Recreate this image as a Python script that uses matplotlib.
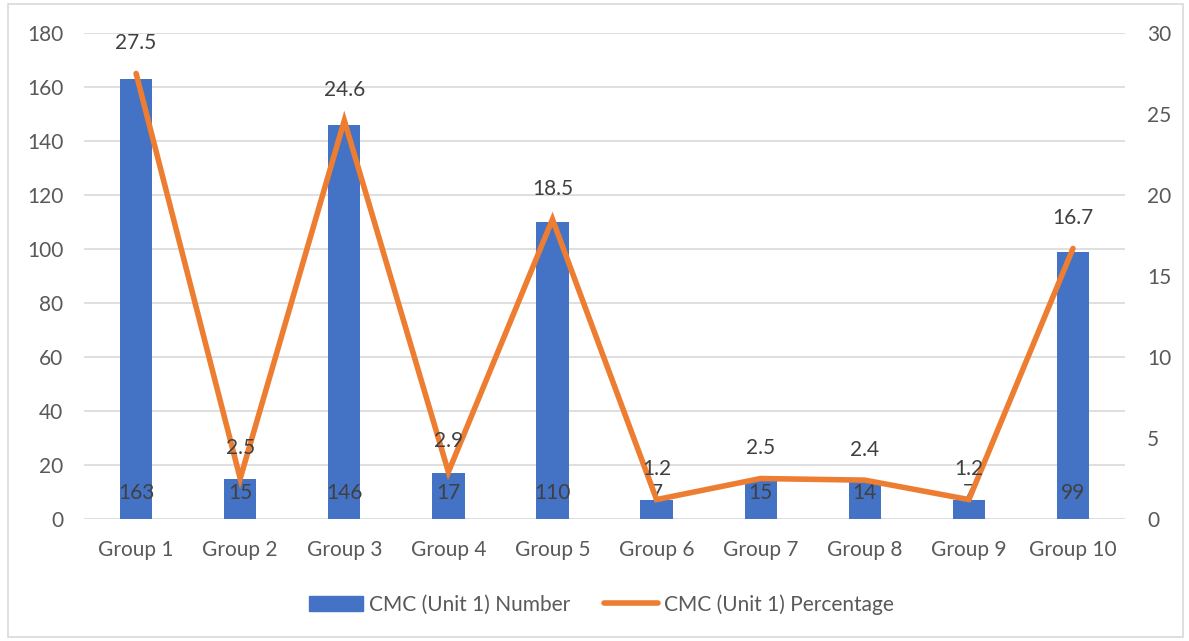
import matplotlib.pyplot as plt
from matplotlib.patches import Rectangle
from matplotlib.lines import Line2D

groups = ['Group 1', 'Group 2', 'Group 3', 'Group 4', 'Group 5',
          'Group 6', 'Group 7', 'Group 8', 'Group 9', 'Group 10']
numbers = [163, 15, 146, 17, 110, 7, 15, 14, 7, 99]
percentages = [27.5, 2.5, 24.6, 2.9, 18.5, 1.2, 2.5, 2.4, 1.2, 16.7]

blue = '#4472C4'
orange = '#ED7D31'
grid = '#D9D9D9'
tick_col = '#595959'
label_col = '#404040'
fs = 15

plt.rcParams['font.family'] = ['Lato', 'DejaVu Sans']

fig = plt.figure(figsize=(11.89, 6.41), dpi=100)
fig.patches.append(Rectangle((0.007, 0.007), 0.988, 0.986, transform=fig.transFigure,
                             fill=False, edgecolor='#D9D9D9', linewidth=1.2))

ax = fig.add_axes([0.0707, 0.1903, 0.8755, 0.7582])
x = list(range(len(groups)))

ax.bar(x, numbers, width=0.31, color=blue, zorder=2)
ax.set_ylim(0, 180)
ax.set_yticks(range(0, 181, 20))
ax.set_xlim(-0.5, len(groups) - 0.5)
ax.set_xticks(x)
ax.set_xticklabels(groups)
ax.grid(axis='y', color=grid, linewidth=1.2, zorder=0)
ax.set_axisbelow(True)
for s in ax.spines.values():
    s.set_visible(False)
ax.tick_params(length=0, labelsize=fs, colors=tick_col)
ax.tick_params(axis='x', pad=15)
ax.tick_params(axis='y', pad=15)

# counts written at the base of each bar
for xi, n in zip(x, numbers):
    ax.annotate(str(n), (xi, 0), xytext=(0, 19), textcoords='offset points',
                ha='center', va='center', fontsize=fs, color=label_col, zorder=4)

ax2 = ax.twinx()
ax2.plot(x, percentages, color=orange, linewidth=4, solid_capstyle='round',
         solid_joinstyle='miter', zorder=3)
ax2.set_ylim(0, 30)
ax2.set_yticks(range(0, 31, 5))
for s in ax2.spines.values():
    s.set_visible(False)
ax2.tick_params(length=0, labelsize=fs, colors=tick_col, pad=16)

for xi, p in zip(x, percentages):
    ax2.annotate(f'{p}', (xi, p), xytext=(0, 22), textcoords='offset points',
                 ha='center', va='center', fontsize=fs, color=label_col, zorder=5)

handles = [Rectangle((0, 0), 1, 1, color=blue),
           Line2D([0], [0], color=orange, linewidth=4, solid_capstyle='round')]
fig.legend(handles, ['CMC (Unit 1) Number', 'CMC (Unit 1) Percentage'],
           loc='center', bbox_to_anchor=(0.506, 0.057), ncol=2, frameon=False,
           fontsize=fs, labelcolor=tick_col, handlelength=2.6, handletextpad=0.3,
           columnspacing=1.6)

fig.savefig('out.png', dpi=100)
